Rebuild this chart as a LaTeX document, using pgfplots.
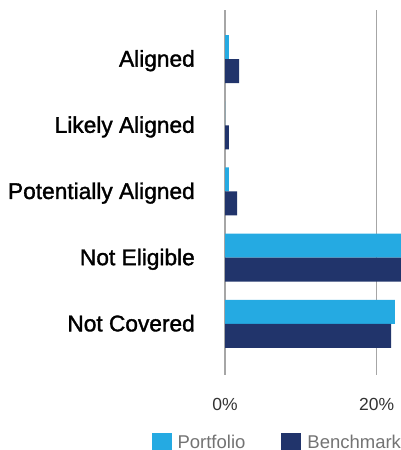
\documentclass[border=0pt]{standalone}
\usepackage{pgfplots}
\pgfplotsset{compat=1.18}
\usepackage{fontspec}
\setmainfont{Liberation Sans}
\newfontfamily\medfont[FakeBold=1.5]{Liberation Sans}
\definecolor{port}{RGB}{37,170,226}
\definecolor{bench}{RGB}{33,52,107}
\definecolor{gridc}{RGB}{166,166,166}
\definecolor{legt}{RGB}{115,115,115}
\definecolor{tickt}{RGB}{51,51,51}
\begin{document}
\begin{tikzpicture}
\path[use as bounding box] (0,0) rectangle (401bp,-450bp);
\begin{axis}[
  at={(313bp,-192.5bp)}, anchor=center,
  scale only axis, width=176bp, height=365bp,
  xbar=0pt, bar width=24bp,
  xmin=0, xmax=23.2,
  ymin=-0.742, ymax=4.773, y dir=reverse,
  ytick={0,1,2,3,4},
  yticklabels={Aligned, Likely Aligned, Potentially Aligned, Not Eligible, Not Covered},
  xtick={0,20},
  xticklabel={\pgfmathprintnumber{\tick}\%},
  /pgf/number format/assume math mode=true,
  xmajorgrids, major grid style={gridc, line width=1.4bp},
  axis line style={draw=none},
  major tick length=0pt,
  clip=true,
  yticklabel style={anchor=base east, inner sep=0pt, xshift=-30bp, yshift=-7.5bp, font=\medfont\fontsize{22.7bp}{26bp}\selectfont, text=black},
  xticklabel style={anchor=north, inner sep=0pt, yshift=-23bp, font=\fontsize{17.5bp}{21bp}\selectfont, text=tickt},
  legend image code/.code={\fill[#1] (0bp,-10bp) rectangle (20bp,10bp);},
  legend style={draw=none, fill=none, at={(axis description cs:1,-0.1589)}, anchor=north east,
    legend columns=2, inner sep=0pt, outer sep=0pt,
    font=\fontsize{18.5bp}{22bp}\selectfont, text=legt,
    nodes={inner sep=0pt},
    /tikz/every odd column/.append style={column sep=6bp},
    /tikz/every even column/.append style={column sep=36bp}},
]
\addplot[fill=port, draw=none, bar shift=12bp] coordinates {(0.5,0) (0,1) (0.5,2) (25,3) (22.4,4)};
\addplot[fill=bench, draw=none, bar shift=-12bp] coordinates {(1.85,0) (0.5,1) (1.6,2) (25,3) (21.9,4)};
\legend{Portfolio, Benchmark}
\end{axis}
\end{tikzpicture}
\end{document}
